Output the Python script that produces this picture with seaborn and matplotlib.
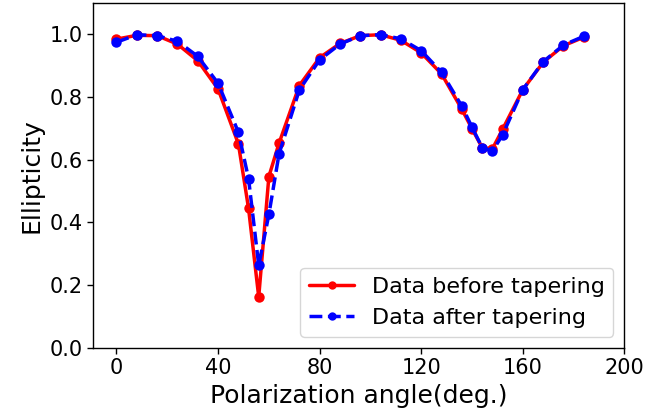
import matplotlib
matplotlib.use("Agg")
import matplotlib.pyplot as plt
import seaborn as sns

angles = [0, 8, 16, 24, 32, 40, 48, 52, 56, 60, 64, 72, 80, 88, 96, 104, 112,
          120, 128, 136, 140, 144, 148, 152, 160, 168, 176, 184]
before = [0.984, 0.996, 0.995, 0.968, 0.915, 0.825, 0.650, 0.444, 0.162, 0.546,
          0.652, 0.836, 0.925, 0.970, 0.995, 0.998, 0.980, 0.940, 0.873, 0.760,
          0.698, 0.638, 0.634, 0.696, 0.823, 0.910, 0.963, 0.990]
after = [0.974, 0.998, 0.995, 0.977, 0.929, 0.843, 0.687, 0.539, 0.263, 0.425,
         0.618, 0.822, 0.918, 0.968, 0.995, 0.998, 0.985, 0.947, 0.878, 0.770,
         0.703, 0.638, 0.627, 0.678, 0.823, 0.912, 0.965, 0.993]
labels = ["Data before tapering", "Data after tapering"]

sns.set_style("ticks")
plt.rcParams['font.family'] = ['DejaVu Sans']
plt.rcParams['text.color'] = 'black'
plt.rcParams['axes.labelcolor'] = 'black'
plt.rcParams['xtick.color'] = 'black'
plt.rcParams['ytick.color'] = 'black'

fig, ax = plt.subplots(figsize=(6.7, 4.18), dpi=100)
fig.subplots_adjust(left=0.139, right=0.932, top=0.9935, bottom=0.168)

sns.lineplot(x=angles, y=before, ax=ax, color='red', marker='o', markersize=7.5,
             markeredgecolor='red', markeredgewidth=0, linewidth=2.5,
             label=labels[0])
sns.lineplot(x=angles, y=after, ax=ax, color='blue', marker='o', markersize=7.5,
             markeredgecolor='blue', markeredgewidth=0, linewidth=2.5,
             linestyle='--', label=labels[1])

ax.set_xlim(-9.2, 200)
ax.set_ylim(0, 1.1)
ax.set_xticks([0, 40, 80, 120, 160, 200])
ax.set_yticks([0.0, 0.2, 0.4, 0.6, 0.8, 1.0])
ax.tick_params(labelsize=15, direction='out', length=4, width=1, colors='black')
ax.set_xlabel("Polarization angle(deg.)", fontsize=18, color='black')
ax.set_ylabel("Ellipticity", fontsize=18, color='black')
for s in ax.spines.values():
    s.set_color('black')
    s.set_linewidth(1)
ax.legend(loc='lower right', fontsize=16, frameon=True, markerscale=0.8)

fig.savefig("out.png", dpi=100)
